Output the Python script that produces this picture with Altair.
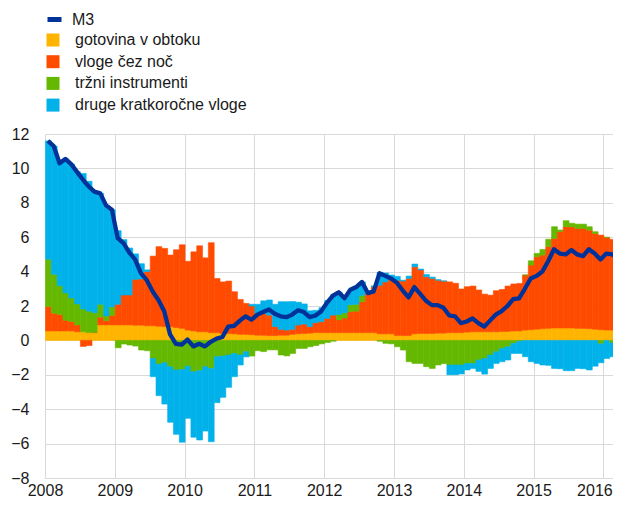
import altair as alt
import pandas as pd

# Monthly observations, Jan 2008 .. Mar 2016 (99 months)
months = pd.period_range("2008-01", periods=99, freq="M")

# Annual growth of M3 (%)
m3 = [11.6, 11.3, 10.3, 10.55, 10.25, 9.8, 9.35, 8.95, 8.65, 8.55, 7.85, 7.6,
      5.95, 5.65, 5.1, 4.7, 3.9, 3.5, 2.85, 2.35, 1.7, 0.35, -0.2, -0.25,
      0.05, -0.35, -0.2, -0.35, -0.08, 0.1, 0.2, 0.8, 0.85, 1.15, 1.4, 1.2,
      1.5, 1.65, 1.8, 1.55, 1.4, 1.35, 1.5, 1.75, 1.65, 1.35, 1.45, 1.7,
      2.2, 2.6, 2.8, 2.45, 2.95, 3.1, 3.4, 2.75, 2.85, 3.9, 3.75, 3.6,
      3.35, 2.9, 2.5, 3.1, 2.7, 2.3, 2.05, 2.05, 1.9, 1.45, 1.4, 1.0,
      1.1, 1.28, 1.0, 0.8, 1.15, 1.5, 1.7, 2.0, 2.4, 2.45, 3.0, 3.6,
      3.75, 4.0, 4.6, 5.3, 5.05, 5.0, 5.25, 5.0, 4.9, 5.3, 5.05, 4.7, 5.05, 5.0, 4.8]

# Contributions (percentage points)
gotovina = [0.55, 0.55, 0.55, 0.55, 0.55, 0.5, 0.5, 0.45, 0.45, 0.9, 0.9, 0.9,
            0.9, 0.9, 0.9, 0.88, 0.88, 0.85, 0.85, 0.82, 0.8, 0.8, 0.75, 0.7,
            0.6, 0.55, 0.5, 0.5, 0.45, 0.45, 0.4, 0.4, 0.38, 0.35, 0.35, 0.33,
            0.3, 0.3, 0.28, 0.28, 0.3, 0.3, 0.35, 0.38, 0.4, 0.42, 0.45, 0.45,
            0.45, 0.45, 0.45, 0.45, 0.45, 0.45, 0.45, 0.45, 0.45, 0.38, 0.38, 0.38,
            0.28, 0.28, 0.28, 0.38, 0.4, 0.4, 0.4, 0.42, 0.42, 0.45, 0.45, 0.45,
            0.48, 0.5, 0.5, 0.5, 0.5, 0.5, 0.52, 0.52, 0.55, 0.55, 0.6, 0.62,
            0.65, 0.68, 0.7, 0.72, 0.72, 0.72, 0.72, 0.7, 0.7, 0.68, 0.65, 0.62, 0.6, 0.6, 0.6]

vloge = [1.42, 1.03, 0.95, 0.62, 0.55, 0.4, -0.35, -0.3, 0.02, 0.45, 0.25, 0.55,
         1.2, 1.74, 1.74, 2.67, 2.69, 3.15, 4.05, 4.63, 4.55, 4.16, 4.52, 4.86,
         4.0, 4.6, 5.0, 4.3, 5.23, 3.15, 3.0, 3.05, 2.45, 2.03, 1.8, 1.67,
         1.27, 1.27, 1.19, 0.52, 0.34, 0.3, 0.29, 0.51, 0.55, 0.38, 0.58, 0.64,
         0.83, 1.02, 0.75, 0.85, 1.22, 1.25, 1.8, 2.28, 2.67, 2.82, 3.02, 3.22,
         3.22, 3.17, 3.32, 3.9, 3.7, 3.3, 3.2, 3.08, 3.03, 2.95, 2.87, 2.54,
         2.64, 2.66, 2.43, 2.19, 2.13, 2.39, 2.44, 2.64, 2.73, 2.76, 3.2, 3.76,
         4.21, 4.28, 4.75, 5.21, 5.6, 5.89, 5.89, 5.81, 5.81, 5.73, 5.57, 5.5, 5.39, 5.27, 5.14]

trzni = [2.75, 2.27, 1.68, 1.59, 1.36, 1.22, 1.33, 1.25, 1.14, 0.75, 0.27, 0.5,
         -0.43, -0.21, -0.27, -0.33, -0.56, -0.6, -1.05, -1.38, -1.3, -1.53, -1.72, -1.69,
         -1.5, -1.82, -1.76, -1.53, -1.63, -0.95, -0.91, -0.85, -0.76, -0.85, -0.66, -0.91,
         -0.6, -0.65, -0.55, -0.55, -0.85, -0.9, -0.76, -0.47, -0.47, -0.37, -0.3, -0.2,
         -0.12, -0.05, 0.3, 0.3, 0.4, 0.4, 0.35, 0.05, 0.0, -0.05, -0.17, -0.2,
         -0.37, -0.56, -1.24, -1.34, -1.34, -1.53, -1.63, -1.43, -1.35, -1.43, -1.43, -1.43,
         -1.34, -1.34, -1.14, -1.05, -0.85, -0.66, -0.47, -0.37, -0.17, -0.05, 0.0, 0.25,
         0.2, 0.33, 0.43, 0.68, 0.1, 0.35, 0.2, 0.25, 0.25, 0.2, 0.1, -0.2, 0.0, -0.15, 0.0]

druge = [6.88, 7.45, 7.12, 7.79, 7.79, 7.68, 7.87, 7.55, 7.04, 6.45, 6.43, 5.65,
         4.28, 3.22, 2.73, 1.48, 0.89, 0.1, -1.06, -1.83, -2.4, -3.23, -3.74, -4.23,
         -3.03, -3.81, -4.03, -3.74, -4.26, -2.67, -2.4, -1.88, -1.35, -0.58, -0.3, 0.1,
         0.53, 0.73, 0.88, 1.3, 1.61, 1.65, 1.62, 1.33, 1.17, 0.92, 0.72, 0.81,
         1.04, 1.18, 1.3, 0.85, 0.88, 1.0, 0.8, 0.05, 0.05, 0.75, 0.52, 0.2,
         0.22, 0.05, 0.14, 0.16, 0.05, 0.13, 0.08, 0.03, 0.0, -0.57, -0.57, -0.52,
         -0.38, -0.29, -0.66, -0.91, -0.78, -0.68, -0.77, -0.77, -0.59, -0.71, -0.95, -1.24,
         -1.34, -1.43, -1.45, -1.63, -1.65, -1.76, -1.76, -1.63, -1.65, -1.72, -1.5, -1.1, -1.05, -0.8, -0.95]

series_names = ["gotovina v obtoku", "vloge čez noč", "tržni instrumenti", "druge kratkoročne vloge"]
series_values = [gotovina, vloge, trzni, druge]
series_colors = ["#FFB400", "#FF4B00", "#65B800", "#00B1EA"]
year_ticks = list(range(2008, 2017))
y_ticks = list(range(-8, 13, 2))

FONT = "Liberation Sans"
TXT = "#1a1a1a"
PLOT_W = 568
X_END = 2008 + PLOT_W / 69.8

rows = []
for i, p in enumerate(months):
    x0 = p.year + (p.month - 1) / 12
    for k, (name, vals) in enumerate(zip(series_names, series_values)):
        rows.append({"x": x0, "x2": x0 + 1 / 12, "value": vals[i], "series": name, "ord": k})
bars_df = pd.DataFrame(rows)

line_df = pd.DataFrame({
    "xm": [p.year + (p.month - 1) / 12 + 1 / 24 for p in months],
    "M3": m3,
    "s": ["M3"] * len(m3),
})

xscale = alt.Scale(domain=[2008, X_END], nice=False, zero=False)
yscale = alt.Scale(domain=[-8, 12], nice=False)

xaxis = alt.Axis(values=year_ticks, format="d", title=None, grid=True, domain=False, ticks=False,
                 labelFont=FONT, labelFontSize=16, labelColor=TXT, labelPadding=4,
                 gridColor="#d9d9d9", gridWidth=1, labelFlush=False, labelOverlap=False,
                 labelBound=False,
                 labelOffset={"condition": {"test": "datum.value == 2016", "value": -9}, "value": 0})
yaxis = alt.Axis(values=y_ticks, title=None, grid=True, domain=False, ticks=False,
                 labelFont=FONT, labelFontSize=16, labelColor=TXT, labelPadding=16,
                 gridColor="#d9d9d9", gridWidth=1)

color_scale = alt.Scale(domain=series_names, range=series_colors)

bars = alt.Chart(bars_df).mark_bar(clip=True, binSpacing=0, strokeWidth=0.6).encode(
    x=alt.X("x:Q", bin="binned", scale=xscale, axis=xaxis),
    x2="x2:Q",
    y=alt.Y("value:Q", stack="zero", scale=yscale, axis=yaxis),
    fill=alt.Fill("series:N", scale=color_scale,
                  legend=alt.Legend(title=None, orient="none", legendX=0, legendY=-102,
                                    symbolType="square", symbolSize=169, symbolStrokeWidth=0,
                                    labelFont=FONT, labelFontSize=16, labelColor=TXT,
                                    labelOffset=14, rowPadding=5.7, padding=0, labelLimit=400)),
    stroke=alt.Stroke("series:N", scale=color_scale, legend=None),
    order=alt.Order("ord:Q"),
)

line = alt.Chart(line_df).mark_line(clip=True, strokeWidth=4.3, strokeJoin="round").encode(
    x=alt.X("xm:Q", scale=xscale, axis=xaxis),
    y=alt.Y("M3:Q", scale=yscale, axis=yaxis),
    stroke=alt.Stroke("s:N",
                      scale=alt.Scale(domain=["M3"], range=["#003299"]),
                      legend=alt.Legend(title=None, orient="none", legendX=0, legendY=-124,
                                        symbolType="stroke", symbolSize=196, symbolStrokeWidth=5,
                                        labelFont=FONT, labelFontSize=16, labelColor=TXT,
                                        labelOffset=8, padding=0)),
)

chart = alt.layer(bars, line).properties(
    width=PLOT_W, height=344,
    autosize=alt.AutoSizeParams(type="none"),
    padding={"left": 37, "top": 126, "right": 0, "bottom": 20},
).configure_view(stroke=None).resolve_scale(stroke="independent")

chart.save("out.html", embed_options={"renderer": "svg", "actions": False})
